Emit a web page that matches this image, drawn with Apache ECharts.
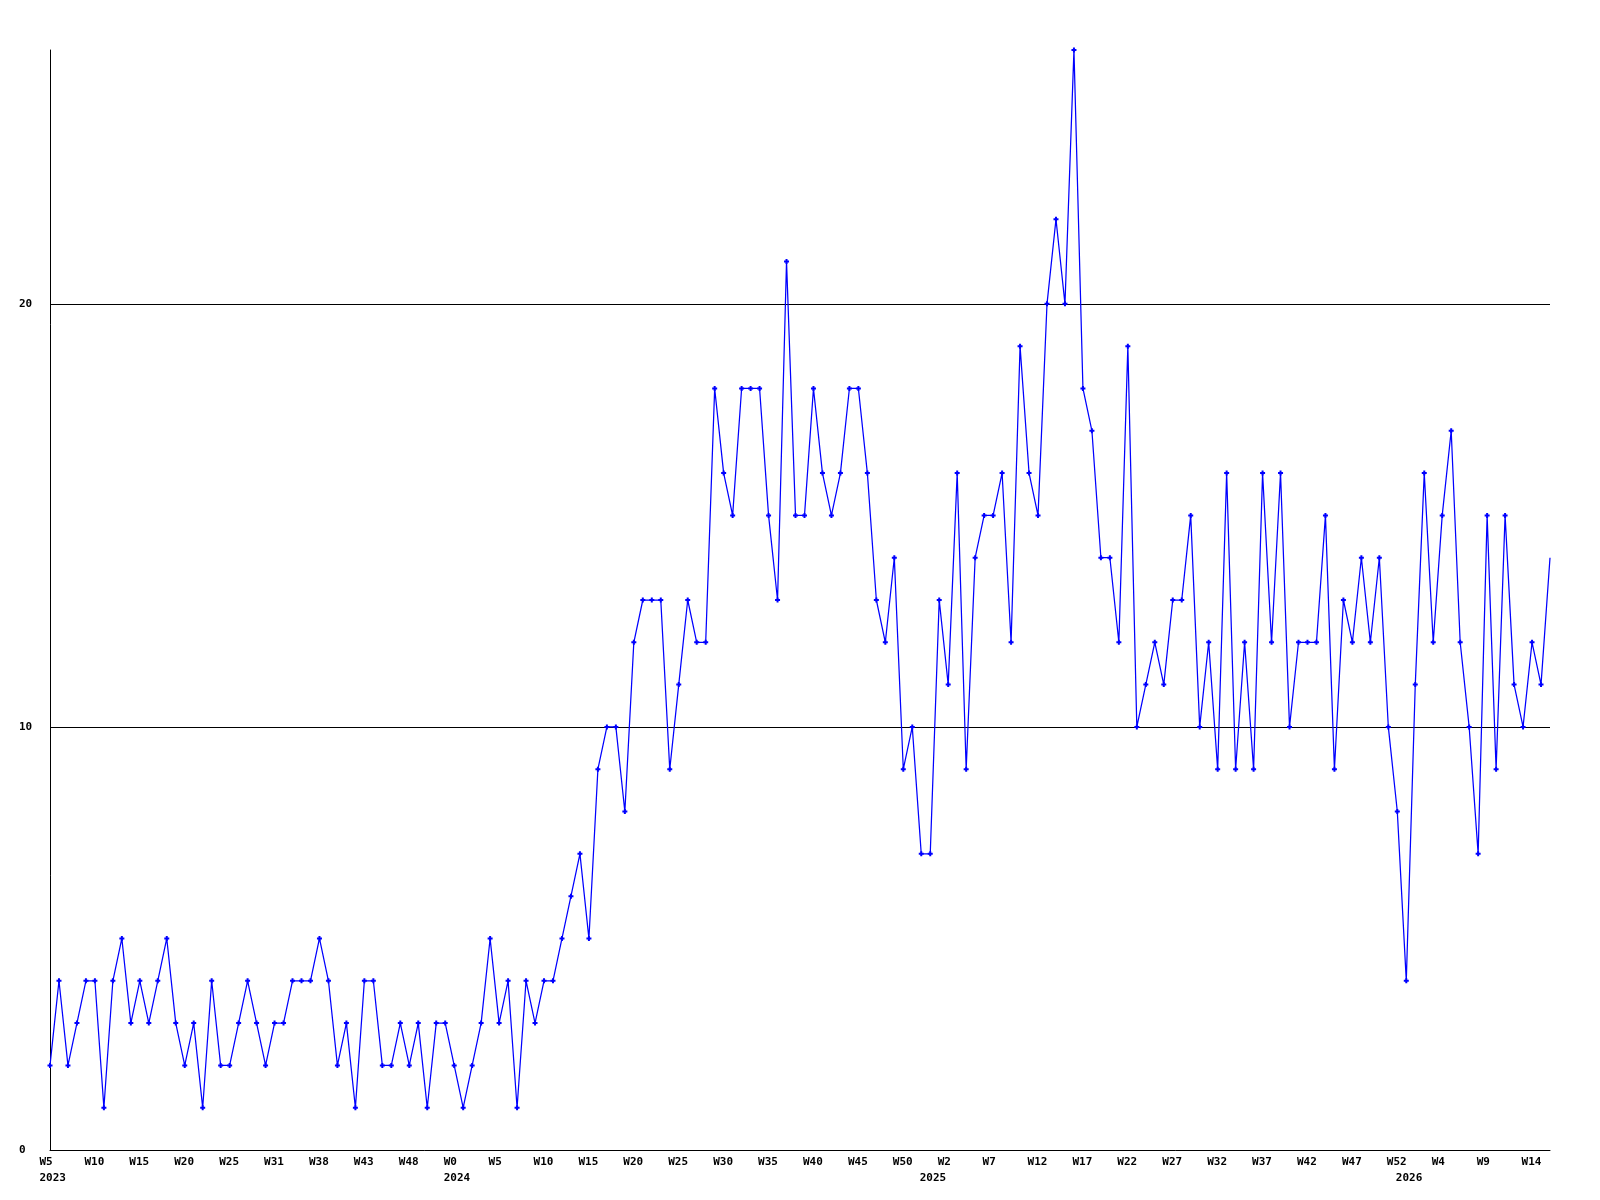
<!DOCTYPE html>
<html>
<head>
<meta charset="utf-8">
<script src="https://cdn.jsdelivr.net/npm/echarts@6/dist/echarts.min.js"></script>
<style>
  html, body { margin: 0; padding: 0; background: #ffffff; }
  #chart { width: 1600px; height: 1200px; }
</style>
</head>
<body>
<div id="chart"></div>
<script>
// Weekly values, one per point (168 points)
const values = [
  2,4,2,3,4,4,1,4,5,3,4,3,4,5,3,2,3,1,4,2,2,3,4,3,2,3,3,4,4,4,5,4,2,3,1,4,4,
  2,2,3,2,3,1,3,3,2,1,2,3,5,3,4,1,4,3,4,4,5,6,7,5,9,10,10,
  8,12,13,13,13,9,11,13,12,12,18,16,15,18,18,18,15,13,21,15,15,18,16,15,16,18,18,
  16,13,12,14,9,10,7,7,13,11,16,9,14,15,15,16,12,19,16,15,20,22,20,26,18,17,14,
  14,12,19,10,11,12,11,13,13,15,10,12,9,16,9,12,9,16,12,16,10,12,12,12,15,9,
  13,12,14,12,14,10,8,4,11,16,12,15,17,12,10,7,15,9,15,11,10,12,11,14
];

// Week tick labels, one every 5 points
const tickLabels = [
  'W5','W10','W15','W20','W25','W31','W38','W43','W48','W0',
  'W5','W10','W15','W20','W25','W30','W35','W40','W45','W50',
  'W2','W7','W12','W17','W22','W27','W32','W37','W42','W47',
  'W52','W4','W9','W14'
];
const tickStep = 5;

// Year labels and the point index where each year starts
const yearIndex = [0, 45, 98, 151];
const yearText = ['2023', '2024', '2025', '2026'];

// Y axis settings
const yMin = 0, yMax = 26, yStep = 10;

const categories = values.map((_, i) => String(i));
const lastIdx = values.length - 1;
const seriesData = values.map((v, i) => i === lastIdx ? { value: v, symbolSize: 0 } : v);

const FONT = 'DejaVu Sans Mono';
const richT = { t: { width: 21, align: 'left', fontFamily: FONT, fontWeight: 'bold', fontSize: 11, color: '#000' } };

const chart = echarts.init(document.getElementById('chart'), null, { renderer: 'canvas' });
chart.setOption({
  animation: false,
  backgroundColor: '#ffffff',
  grid: { left: 50, right: 50, top: 50, bottom: 50, containLabel: false },
  xAxis: [
    {
      type: 'category',
      data: categories,
      boundaryGap: false,
      position: 'bottom',
      axisLine: { show: true, lineStyle: { color: '#000', width: 1 } },
      axisTick: { show: false },
      splitLine: { show: false },
      axisLabel: {
        show: true,
        margin: 7,
        interval: (idx) => idx % tickStep === 0,
        formatter: (val, idx) => '{t|' + (tickLabels[Math.round(idx / tickStep)] || '') + '}',
        rich: richT
      }
    },
    {
      type: 'category',
      data: categories,
      boundaryGap: false,
      position: 'bottom',
      offset: 15.5,
      axisLine: { show: false },
      axisTick: { show: false },
      splitLine: { show: false },
      axisLabel: {
        show: true,
        margin: 7,
        interval: (idx) => yearIndex.indexOf(idx) >= 0,
        formatter: (val, idx) => {
          const k = yearIndex.indexOf(idx);
          return k >= 0 ? '{t|' + yearText[k] + '}' : '';
        },
        rich: richT
      }
    }
  ],
  yAxis: {
    type: 'value',
    min: yMin,
    max: yMax,
    interval: yStep,
    axisLine: { show: true, lineStyle: { color: '#000', width: 1 } },
    axisTick: { show: false },
    axisLabel: {
      show: true,
      showMaxLabel: false,
      align: 'left',
      margin: 31,
      fontFamily: FONT,
      fontWeight: 'bold',
      fontSize: 11,
      color: '#000'
    },
    splitLine: {
      show: true,
      showMinLine: false,
      showMaxLine: false,
      lineStyle: { color: '#000', width: 1 }
    }
  },
  series: [
    {
      type: 'line',
      xAxisIndex: 0,
      data: seriesData,
      symbol: 'path://M1.5,0h2v1.5h1.5v2h-1.5v1.5h-2v-1.5h-1.5v-2h1.5z',
      symbolSize: 5,
      showAllSymbol: true,
      lineStyle: { color: '#0000ff', width: 1.25 },
      itemStyle: { color: '#0000ff' },
      clip: true
    }
  ]
});
</script>
</body>
</html>
